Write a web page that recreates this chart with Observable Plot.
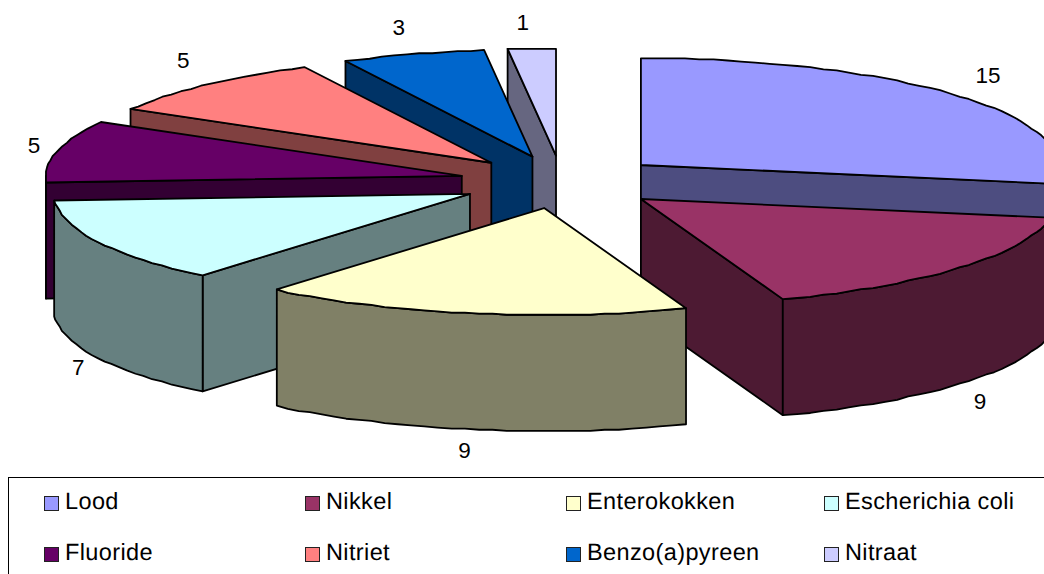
<!DOCTYPE html>
<html>
<head>
<meta charset="utf-8">
<script src="https://cdn.jsdelivr.net/npm/d3@7"></script>
<script src="https://cdn.jsdelivr.net/npm/@observablehq/plot@0.6"></script>
<style>
  html, body { margin: 0; padding: 0; background: #fff; width: 1044px; height: 574px; overflow: hidden; }
  svg { display: block; }
  #legend {
    position: absolute; left: 8px; top: 477px; width: 1100px; height: 120px; box-sizing: border-box;
    border: 1.5px solid #000; font-family: "Liberation Sans", Arial, sans-serif; font-size: 23.5px; letter-spacing: 0.38px;
    color: #000; text-rendering: geometricPrecision;
  }
  #legend .item { position: absolute; display: flex; align-items: center; height: 26px; white-space: nowrap; }
  #legend .swatch { width: 13px; height: 13px; border: 1.5px solid #222; margin-right: 6px; margin-top: 4px; flex: none; }
</style>
</head>
<body>
<div id="chart"></div>
<div id="legend"></div>
<script>
// Number of measurements per substance, clockwise from twelve o'clock
const substances = ["Lood", "Nikkel", "Enterokokken", "Escherichia coli", "Fluoride", "Nitriet", "Benzo(a)pyreen", "Nitraat"];
const counts = [15, 9, 9, 7, 5, 5, 3, 1];
const colors = ["#9999FF", "#993366", "#FFFFCC", "#CCFFFF", "#660066", "#FF8080", "#0066CC", "#CCCCFF"];

// Pie geometry, expressed in units of the pie radius
const W = 1044, H = 477;
const radiusPx = 416, centerX = 561.5, centerY = 181.5;
const tilt = 0.257, depth = 0.279, explode = 0.2476;
const labelShift = [[28, -21], [20, 19], [-7, 21], [-20, 9], [-23, -6], [-22, -24], [-15, -27], [-9, -26]];
// Back-to-front drawing order, so nearer slices cover the farther ones
const paintOrder = [7, 6, 5, 4, 3, 0, 1, 2];

const total = d3.sum(counts);
const rad = (d) => (d * Math.PI) / 180;
const shade = (c) => { const r = d3.rgb(c); return d3.rgb(r.r / 2, r.g / 2, r.b / 2).formatHex(); };
// Rim coordinates sit on a fine grid, which gives the arcs a slightly stepped outline
const gridStep = 1.1 / radiusPx;
const snap = (v) => Math.round(v / gridStep) * gridStep;

let acc = 0;
const slices = counts.map((v, i) => {
  const a0 = (acc / total) * 360;
  acc += v;
  const a1 = (acc / total) * 360;
  const mid = rad((a0 + a1) / 2);
  return {i, a0, a1, mid, ox: explode * Math.sin(mid), oy: -explode * tilt * Math.cos(mid)};
});

const rim = (s, a, drop = 0) => ({
  x: s.ox + snap(Math.sin(rad(a))),
  y: s.oy + snap(-tilt * Math.cos(rad(a))) + drop
});
const apex = (s, drop = 0) => ({x: s.ox, y: s.oy + drop});
const arc = (s, a, b, drop = 0) => {
  const n = Math.max(1, Math.ceil(Math.abs(b - a) / 2));
  return d3.range(n + 1).map((k) => rim(s, a + ((b - a) * k) / n, drop));
};
const ring = (pts) => [...pts, pts[0]];

// One closed outline per visible face
const faceMark = (pts, fill) =>
  Plot.line(ring(pts), {x: "x", y: "y", fill, stroke: "#000", strokeWidth: 1.8, strokeLinejoin: "round", curve: "linear"});

const faceMarks = paintOrder.flatMap((idx) => {
  const s = slices[idx];
  const dark = shade(colors[idx]);
  const marks = [];
  const radial = (a) => marks.push(faceMark([apex(s), rim(s, a), rim(s, a, depth), apex(s, depth)], dark));
  if (Math.sin(rad(s.a1)) > 0.001) radial(s.a1);
  if (Math.sin(rad(s.a0)) < -0.001) radial(s.a0);
  const from = Math.max(s.a0, 90), to = Math.min(s.a1, 270);
  if (to > from) marks.push(faceMark([...arc(s, from, to), ...arc(s, to, from, depth)], dark));
  marks.push(faceMark([apex(s), ...arc(s, s.a0, s.a1)], colors[idx]));
  return marks;
});

const labelRows = slices.map((s) => {
  const a = (s.a0 + s.a1) / 2;
  const front = a > 90 && a < 270;
  const p = rim(s, a, front ? depth : 0);
  return {
    x: p.x + labelShift[s.i][0] / radiusPx,
    y: p.y + labelShift[s.i][1] / radiusPx,
    text: String(counts[s.i])
  };
});

const plot = Plot.plot({
  width: W,
  height: H,
  margin: 0,
  x: {domain: [-centerX / radiusPx, (W - centerX) / radiusPx], range: [0, W], axis: null},
  y: {domain: [-centerY / radiusPx, (H - centerY) / radiusPx], range: [0, H], axis: null},
  marks: [
    ...faceMarks,
    Plot.text(labelRows, {x: "x", y: "y", text: "text", fontSize: 22.5, fontFamily: "Liberation Sans, Arial, sans-serif", fill: "#000"})
  ]
});
document.getElementById("chart").append(plot);

// Legend: two rows of four entries below the pie
const legend = document.getElementById("legend");
const columnLeft = [35, 296, 557, 815], rowTop = [10, 61];
substances.forEach((name, i) => {
  const item = document.createElement("div");
  item.className = "item";
  item.style.left = columnLeft[i % 4] + "px";
  item.style.top = rowTop[Math.floor(i / 4)] + "px";
  const swatch = document.createElement("span");
  swatch.className = "swatch";
  swatch.style.background = colors[i];
  const label = document.createElement("span");
  label.textContent = name;
  item.append(swatch, label);
  legend.append(item);
});
</script>
</body>
</html>
